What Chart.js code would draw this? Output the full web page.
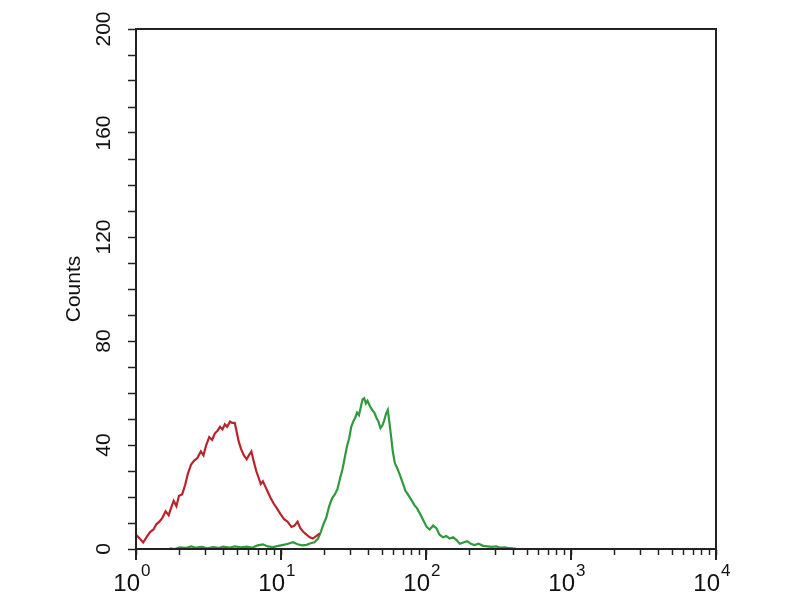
<!DOCTYPE html>
<html><head><meta charset="utf-8">
<script src="https://cdn.jsdelivr.net/npm/chart.js@4/dist/chart.umd.min.js"></script>
<style>html,body{margin:0;padding:0;background:#fff}</style>
</head><body>
<canvas id="c" width="800" height="600"></canvas>
<script>
// Red (control) histogram
const redX = [1.00,1.06,1.12,1.18,1.25,1.32,1.38,1.45,1.52,1.60,1.68,1.75,1.82,1.90,1.98,2.08,2.18,2.28,2.40,2.52,2.65,2.80,2.92,3.05,3.20,3.35,3.50,3.65,3.80,3.95,4.10,4.25,4.45,4.60,4.80,4.95,5.10,5.30,5.55,5.80,6.00,6.25,6.50,6.75,7.00,7.25,7.50,7.80,8.10,8.50,8.90,9.40,9.90,10.5,11.1,11.8,12.4,13.0,13.6,14.3,15.0,15.8,16.6,17.5,18.5];
const redY = [5.5,4.0,2.5,4.5,6.5,7.5,9.5,10.5,12.0,14.5,13.0,16.0,18.5,16.5,20.5,21.0,24.5,29.0,32.5,34.0,35.0,37.5,36.0,40.0,43.0,42.0,44.5,45.5,47.0,46.0,48.0,47.0,49.0,48.5,48.5,45.0,41.5,38.5,36.0,34.5,36.0,37.5,33.5,30.0,27.5,25.0,26.0,24.0,22.0,19.5,17.5,15.5,13.5,11.5,10.5,8.5,9.0,10.5,8.0,6.5,5.5,4.5,4.0,5.0,6.0];
// Green (antibody) histogram
const greenX = [1.70,1.85,2.0,2.2,2.4,2.6,2.85,3.1,3.4,3.7,4.0,4.4,4.8,5.3,5.8,6.3,6.9,7.5,8.1,8.8,9.6,10.4,11.2,12.1,13.0,14.0,15.0,16.0,17.0,18.0,18.8,19.6,20.5,21.5,22.5,23.5,24.5,25.5,26.5,27.5,28.5,29.5,30.5,31.5,32.5,33.5,34.5,35.5,36.5,37.5,38.5,39.5,41.0,42.5,44.0,45.5,47.0,48.5,50.0,51.5,53.0,54.5,56.0,57.5,59.0,61.0,63.5,66.0,69.0,72.0,75.0,79.0,83.0,87.0,91.0,96.0,101,106,112,118,124,131,138,146,154,162,171,181,192,204,216,230,248,265,285,305,325,350,380,420];
const greenY = [0.3,0.0,0.6,0.4,1.0,0.5,0.8,0.3,0.7,0.4,0.9,0.5,1.0,0.6,0.9,0.5,1.4,1.8,1.0,0.7,1.2,1.6,2.0,2.6,1.8,1.4,1.6,2.2,2.6,4.0,6.5,9.5,12.0,16.5,19.5,21.0,23.0,27.0,30.5,35.0,39.5,42.5,47.0,49.0,50.5,52.5,51.5,54.5,57.5,58.0,56.0,57.0,55.0,53.5,52.5,50.5,49.0,46.5,47.5,49.5,52.0,53.5,48.5,43.0,37.5,33.0,31.0,28.5,25.5,22.5,21.0,19.0,17.0,15.5,13.5,11.0,8.5,7.5,9.0,8.0,5.5,4.5,5.0,4.0,4.5,3.5,2.0,2.5,3.0,2.0,1.5,2.0,1.2,1.0,0.8,1.0,0.5,0.6,0.3,0.1];

const xMajorValues = [1, 10, 100, 1000, 10000];
const xTickBase = '10';
const xTickExps = ['0', '1', '2', '3', '4'];
const yMajorValues = [0, 40, 80, 120, 160, 200];
const yTickLabels = ['0', '40', '80', '120', '160', '200'];
const yTitle = 'Counts';

const FONT = '"Liberation Sans", Arial, sans-serif';
const toXY = (xs, ys) => xs.map((x, i) => ({x: x, y: ys[i]}));

const framePlugin = {
  id: 'frame',
  afterDraw(chart) {
    const {ctx, chartArea: a, scales} = chart;
    ctx.save();
    ctx.strokeStyle = '#222';
    ctx.lineWidth = 2;
    ctx.strokeRect(a.left, a.top, a.right - a.left, a.bottom - a.top);
    // longer marks for the decade ticks
    ctx.beginPath();
    xMajorValues.forEach(v => {
      const px = scales.x.getPixelForValue(v);
      ctx.moveTo(px, a.bottom);
      ctx.lineTo(px, a.bottom + 11);
    });
    ctx.stroke();
    // decade labels with raised exponents
    ctx.fillStyle = '#111';
    ctx.textBaseline = 'alphabetic';
    xMajorValues.forEach((v, i) => {
      const px = scales.x.getPixelForValue(v);
      ctx.font = '24px ' + FONT;
      ctx.textAlign = 'right';
      ctx.fillText(xTickBase, px + 4, a.bottom + 42);
      ctx.font = '17px ' + FONT;
      ctx.textAlign = 'left';
      ctx.fillText(xTickExps[i], px + 5, a.bottom + 27);
    });
    ctx.restore();
  }
};

new Chart(document.getElementById('c'), {
  type: 'line',
  data: {
    datasets: [
      {label: 'control', data: toXY(redX, redY), borderColor: '#b8242c', borderWidth: 2.2, pointRadius: 0, fill: false, tension: 0},
      {label: 'sample', data: toXY(greenX, greenY), borderColor: '#2f9a3c', borderWidth: 2.2, pointRadius: 0, fill: false, tension: 0}
    ]
  },
  options: {
    responsive: false,
    animation: false,
    layout: {padding: {top: 29, right: 84, left: 0, bottom: 0}},
    plugins: {legend: {display: false}, tooltip: {enabled: false}},
    scales: {
      x: {
        type: 'logarithmic',
        min: 1, max: 10000,
        afterBuildTicks: s => {
          const t = [];
          for (let e = 0; e < 4; e++) for (let d = 1; d < 10; d++) t.push({value: d * Math.pow(10, e), major: d === 1});
          t.push({value: 10000, major: true});
          s.ticks = t;
        },
        afterFit: s => { s.height = 51; },
        border: {display: true, color: '#222', width: 2},
        grid: {drawOnChartArea: false, drawTicks: true, tickLength: 6, tickColor: '#222', tickWidth: 1.5},
        ticks: {
          autoSkip: false, maxRotation: 0, minRotation: 0,
          padding: 12,
          font: {family: FONT, size: 24},
          callback: () => ''
        }
      },
      y: {
        type: 'linear',
        min: 0, max: 200,
        afterFit: s => { s.width = 136; },
        border: {display: true, color: '#222', width: 2},
        grid: {drawOnChartArea: false, drawTicks: true, tickLength: 8, tickColor: '#222', tickWidth: 1.5},
        title: {display: true, text: yTitle, color: '#111', font: {family: FONT, size: 21}, padding: {top: 62, bottom: 0}},
        ticks: {
          stepSize: 10,
          autoSkip: false,
          minRotation: 90, maxRotation: 90,
          crossAlign: 'center',
          padding: 6,
          color: '#111',
          font: {family: FONT, size: 21},
          callback: (v) => { const i = yMajorValues.indexOf(v); return i >= 0 ? yTickLabels[i] : ''; }
        }
      }
    }
  },
  plugins: [framePlugin]
});
</script>
</body></html>
